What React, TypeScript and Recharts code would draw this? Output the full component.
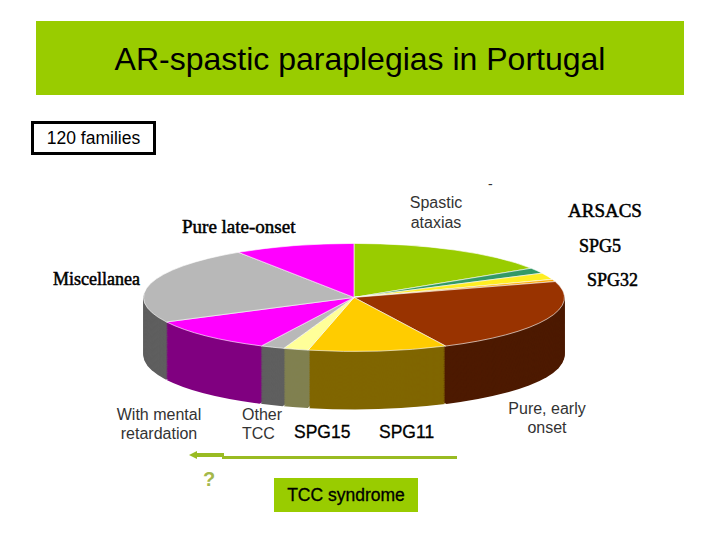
// AR-spastic paraplegias pie, tilted by squashing a PieChart and stacking darker copies for the side wall.
import type { CSSProperties } from "react";
import { Cell, Pie, PieChart } from "recharts";

const sliceNames = [
  "Spastic ataxias",
  "ARSACS",
  "SPG5",
  "SPG32",
  "Pure, early onset",
  "SPG11",
  "SPG15",
  "Other TCC",
  "With mental retardation",
  "Miscellanea",
  "Pure late-onset",
];
const sliceFamilies = [19.1, 2, 2.4, 0.8, 27.1, 12.8, 2.3, 2.2, 12.3, 27.9, 11.1];
const topColors = [
  "#99cc00",
  "#339966",
  "#ffee22",
  "#ffaa00",
  "#993300",
  "#ffcc00",
  "#ffff99",
  "#b8b8b8",
  "#ff00ff",
  "#b8b8b8",
  "#ff00ff",
];
const sideColors = [
  "#4d6600",
  "#1a4d33",
  "#808000",
  "#805500",
  "#4d1a00",
  "#806600",
  "#808050",
  "#5f5f5f",
  "#800080",
  "#5f5f5f",
  "#800080",
];

const pieData = sliceNames.map((name, i) => ({ name, value: sliceFamilies[i] }));

const RADIUS = 210.5;
const TILT = 0.2565;
const DEPTH = 226; // wall height before the squash
const wallLayers = Array.from({ length: 66 }, (_, i) => DEPTH - i * (DEPTH / 66));

const sans = '"Liberation Sans", Arial, sans-serif';
const serif = '"Liberation Serif", "Times New Roman", serif';

function Label({ style, children }: { style: CSSProperties; children: React.ReactNode }) {
  return <div style={{ position: "absolute", whiteSpace: "pre", ...style }}>{children}</div>;
}

const grayText: CSSProperties = { fontFamily: sans, fontSize: 16, lineHeight: "19px", color: "#333", textAlign: "center" };
const serifText: CSSProperties = { fontFamily: serif, fontSize: 18, lineHeight: "20px", color: "#000", WebkitTextStroke: "0.5px #000" };
const boldSans: CSSProperties = { fontFamily: sans, fontSize: 17.5, lineHeight: "20px", color: "#000", WebkitTextStroke: "0.3px #000" };

export default function App() {
  return (
    <div style={{ position: "absolute", left: 0, top: 0, width: 720, height: 540, background: "#fff", overflow: "hidden" }}>
      <style>{".pie-top .recharts-pie-sector path{vector-effect:non-scaling-stroke}"}</style>

      <div
        style={{
          position: "absolute",
          left: 36,
          top: 21,
          width: 648,
          height: 74,
          background: "#99cc00",
          fontFamily: sans,
          fontSize: 32,
          lineHeight: "76px",
          textAlign: "center",
          color: "#000",
        }}
      >
        AR-spastic paraplegias in Portugal
      </div>

      <div
        style={{
          position: "absolute",
          left: 31,
          top: 121,
          width: 119,
          height: 28,
          border: "3px solid #000",
          fontFamily: sans,
          fontSize: 17.5,
          lineHeight: "28px",
          textAlign: "center",
          color: "#000",
        }}
      >
        120 families
      </div>

      <div
        className="pie-top"
        style={{
          position: "absolute",
          left: 133.5,
          top: 297 - 220 * TILT,
          transform: `scaleY(${TILT})`,
          transformOrigin: "0 0",
        }}
      >
        <PieChart width={440} height={680} margin={{ top: 0, right: 0, bottom: 0, left: 0 }}>
          {wallLayers.map((offset) => (
            <Pie
              key={offset}
              data={pieData}
              dataKey="value"
              cx={220}
              cy={220 + offset}
              outerRadius={RADIUS}
              startAngle={90}
              endAngle={-270}
              paddingAngle={0.35}
              stroke="none"
              isAnimationActive={false}
            >
              {sideColors.map((c, i) => (
                <Cell key={i} fill={c} />
              ))}
            </Pie>
          ))}
          <Pie
            data={pieData}
            dataKey="value"
            cx={220}
            cy={220}
            outerRadius={RADIUS}
            startAngle={90}
            endAngle={-270}
            stroke="#fff"
            strokeWidth={1}
            isAnimationActive={false}
          >
            {topColors.map((c, i) => (
              <Cell key={i} fill={c} />
            ))}
          </Pie>
        </PieChart>
      </div>

      <Label style={{ ...grayText, lineHeight: "20px", left: 396, top: 193, width: 80 }}>{"Spastic\nataxias"}</Label>
      <Label style={{ ...grayText, left: 99, top: 405, width: 120 }}>{"With mental\nretardation"}</Label>
      <Label style={{ ...grayText, left: 242, top: 405, textAlign: "left" }}>{"Other\nTCC"}</Label>
      <Label style={{ ...grayText, left: 497, top: 399, width: 100 }}>{"Pure, early\nonset"}</Label>

      <Label style={{ ...serifText, fontSize: 19, left: 182, top: 217 }}>Pure late-onset</Label>
      <Label style={{ ...serifText, left: 53, top: 269 }}>Miscellanea</Label>
      <Label style={{ ...serifText, fontSize: 19, left: 568, top: 201 }}>ARSACS</Label>
      <Label style={{ ...serifText, left: 579, top: 236 }}>SPG5</Label>
      <Label style={{ ...serifText, left: 587, top: 270 }}>SPG32</Label>

      <Label style={{ ...boldSans, left: 294, top: 422 }}>SPG15</Label>
      <Label style={{ ...boldSans, left: 379, top: 422 }}>SPG11</Label>

      {/* arrow under the TCC group */}
      <div style={{ position: "absolute", left: 222, top: 456, width: 235, height: 3, background: "#99bb22" }} />
      <div style={{ position: "absolute", left: 196, top: 453, width: 28, height: 4, background: "#99bb22" }} />
      <div
        style={{
          position: "absolute",
          left: 189,
          top: 451,
          width: 0,
          height: 0,
          borderTop: "4px solid transparent",
          borderBottom: "4px solid transparent",
          borderRight: "8px solid #99bb22",
        }}
      />
      <Label style={{ fontFamily: sans, fontSize: 20, fontWeight: 700, lineHeight: "24px", color: "#a4b84a", left: 203, top: 467 }}>?</Label>

      <div
        style={{
          position: "absolute",
          left: 274,
          top: 478,
          width: 144,
          height: 34,
          background: "#99cc00",
          fontFamily: sans,
          fontSize: 17.5,
          lineHeight: "34px",
          textAlign: "center",
          color: "#000",
          WebkitTextStroke: "0.3px #000",
        }}
      >
        TCC syndrome
      </div>

      <Label style={{ fontFamily: sans, fontSize: 14, lineHeight: "14px", color: "#333", left: 488, top: 177 }}>-</Label>
    </div>
  );
}
